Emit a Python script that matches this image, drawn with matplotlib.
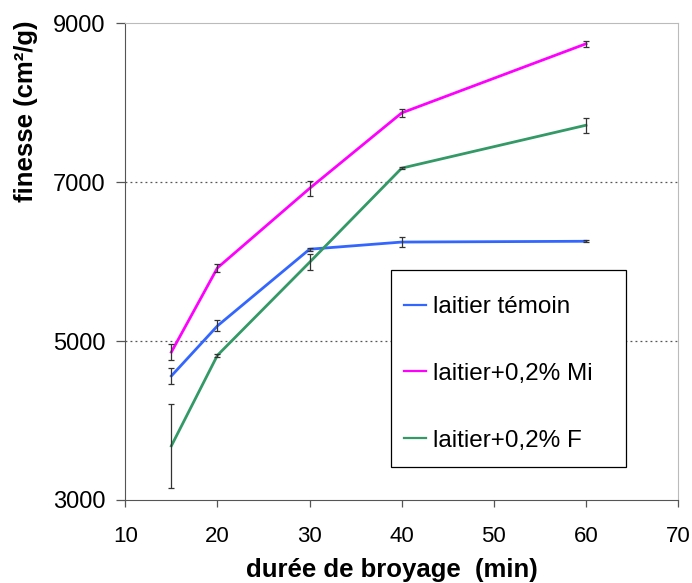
import matplotlib.pyplot as plt
from matplotlib.patches import Rectangle

plt.rcParams['font.family'] = ['Liberation Sans', 'DejaVu Sans']

# durée de broyage (min)
t = [15, 20, 30, 40, 60]

# finesse (cm2/g) and error bars
temoin = [4560, 5190, 6155, 6245, 6255]
temoin_err = [100, 70, 20, 60, 15]
mi = [4860, 5920, 6920, 7870, 8740]
mi_err = [100, 50, 95, 50, 35]
f = [3680, 4820, 5990, 7175, 7715]
f_err = [530, 20, 100, 15, 95]

labels = ['laitier témoin', 'laitier+0,2% Mi', 'laitier+0,2% F']
colors = ['#3366FF', '#FF00FF', '#339966']

fig = plt.figure(figsize=(6.92, 5.83), dpi=100)
ax = fig.add_axes([0.181, 0.1424, 0.799, 0.818])

for y, e, c, lab in zip([temoin, mi, f], [temoin_err, mi_err, f_err], colors, labels):
    ax.plot(t, y, color=c, lw=2, label=lab, zorder=3)
    ax.errorbar(t, y, yerr=e, fmt='none', ecolor='#333333', elinewidth=0.9,
                capsize=2.5, capthick=0.9, zorder=4)

ax.set_xlim(10, 70)
ax.set_ylim(3000, 9000)
ax.set_xticks(range(10, 71, 10))
ax.set_yticks([3000, 5000, 7000, 9000])
for yv in [5000, 7000]:
    ax.axhline(yv, color='#555555', ls=(0, (1.5, 2.5)), lw=0.9, zorder=1)

ax.tick_params(color='#555555', width=0.9)
ax.tick_params(axis='y', labelsize=17, length=6.5, pad=8)
ax.tick_params(axis='x', labelsize=16, length=5, pad=13.5)
for s in ['left', 'bottom']:
    ax.spines[s].set_color('#555555')
for s in ['top', 'right']:
    ax.spines[s].set_color('#bbbbbb')

ax.set_xlabel('durée de broyage  (min)', fontsize=18.5, fontweight='bold')
ax.set_ylabel('finesse (cm²/g)', fontsize=18.5, fontweight='bold')
ax.xaxis.set_label_coords(0.483, -0.122)
ax.yaxis.set_label_coords(-0.157, 0.816)

# legend box drawn separately so the entries can sit close to its left edge
ax.add_patch(Rectangle((0.481, 0.069), 0.425, 0.413, transform=ax.transAxes,
                       facecolor='white', edgecolor='black', lw=0.9, zorder=5))
leg = ax.legend(loc='upper left', bbox_to_anchor=(0.5045, 0.4277),
                fontsize=17.5, frameon=False, handlelength=0.9,
                labelspacing=1.85, borderpad=0, handletextpad=0.3, borderaxespad=0)
leg.set_zorder(6)
for h in leg.legend_handles:
    h.set_linewidth(1.6)

fig.savefig('out.png', dpi=100)
